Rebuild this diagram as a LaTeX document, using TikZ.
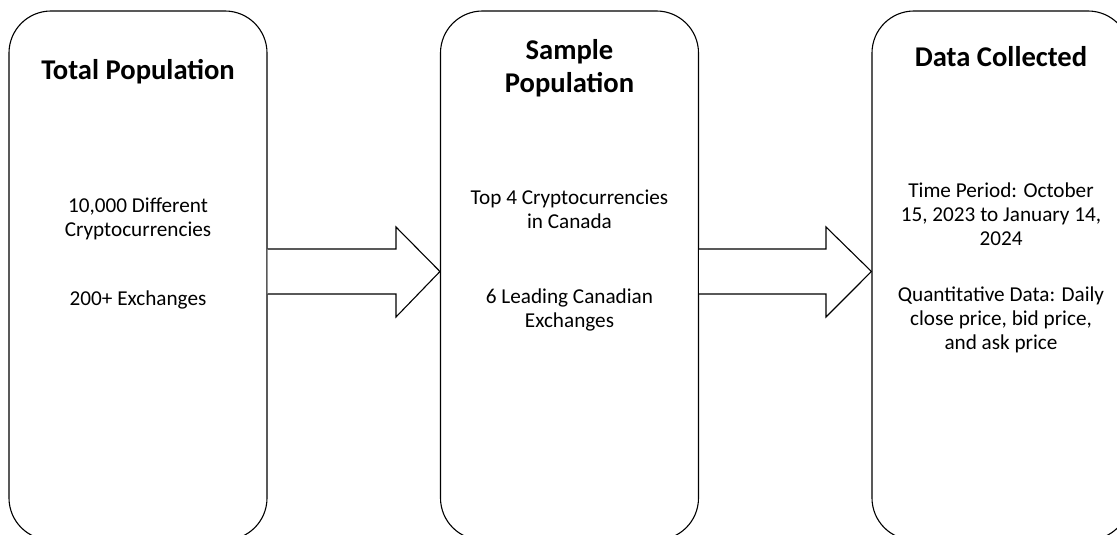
\documentclass[tikz,border=0pt]{standalone}
\usepackage{fontspec}
\setmainfont{Carlito}
\usetikzlibrary{calc}
\begin{document}
\begin{tikzpicture}[x=1pt,y=-1pt,
  panel/.style={draw=black, line width=1.1pt, rounded corners=42pt,
    minimum width=258pt, minimum height=529pt, inner sep=0pt},
  heading/.style={font=\fontsize{28.6}{33}\selectfont\bfseries, align=center, inner sep=0pt},
  body/.style={font=\fontsize{21.2}{24}\selectfont, align=center, inner sep=0pt},
  flow/.style={draw=black, line width=1.1pt, fill=white, line join=miter}]
\useasboundingbox (0,0) rectangle (1117,535);
\clip (0,0) rectangle (1117,535);

% the three stage panels
\node[panel] (pop)  at (138,275.5)  {};
\node[panel] (samp) at (569.5,275.5) {};
\node[panel] (data) at (1001,275.5) {};

% block arrows between the panels
\draw[flow] (pop.east |- 0,249) -- (396,249) -- (396,227)
  -- (samp.west |- 0,271.5) -- (396,317) -- (396,294) -- (pop.east |- 0,294);
\draw[flow] (samp.east |- 0,249) -- (826,249) -- (826,227)
  -- (data.west |- 0,271.5) -- (826,317) -- (826,294) -- (samp.east |- 0,294);

% total population
\node[heading] (popT) at (138,72) {Total Population};
\node[body] (popA) at (138,218.5) {10,000 Different\\Cryptocurrencies};
\node[body] (popB) at (138,300) {200+ Exchanges};

% sample population
\node[heading] (sampT) at (569.5,68.5) {Sample\\Population};
\node[body] (sampA) at (569.5,209) {Top 4 Cryptocurrencies\\in Canada};
\node[body] (sampB) at (569.5,310) {6 Leading Canadian\\Exchanges};

% data collected
\node[heading] (dataT) at (1001,57) {Data Collected};
\node[body] (dataA) at (1001,214) {Time Period: October\\15, 2023 to January 14,\\2024};
\node[body] (dataB) at (1001,320) {Quantitative Data: Daily\\close price, bid price,\\and ask price};
\end{tikzpicture}
\end{document}
